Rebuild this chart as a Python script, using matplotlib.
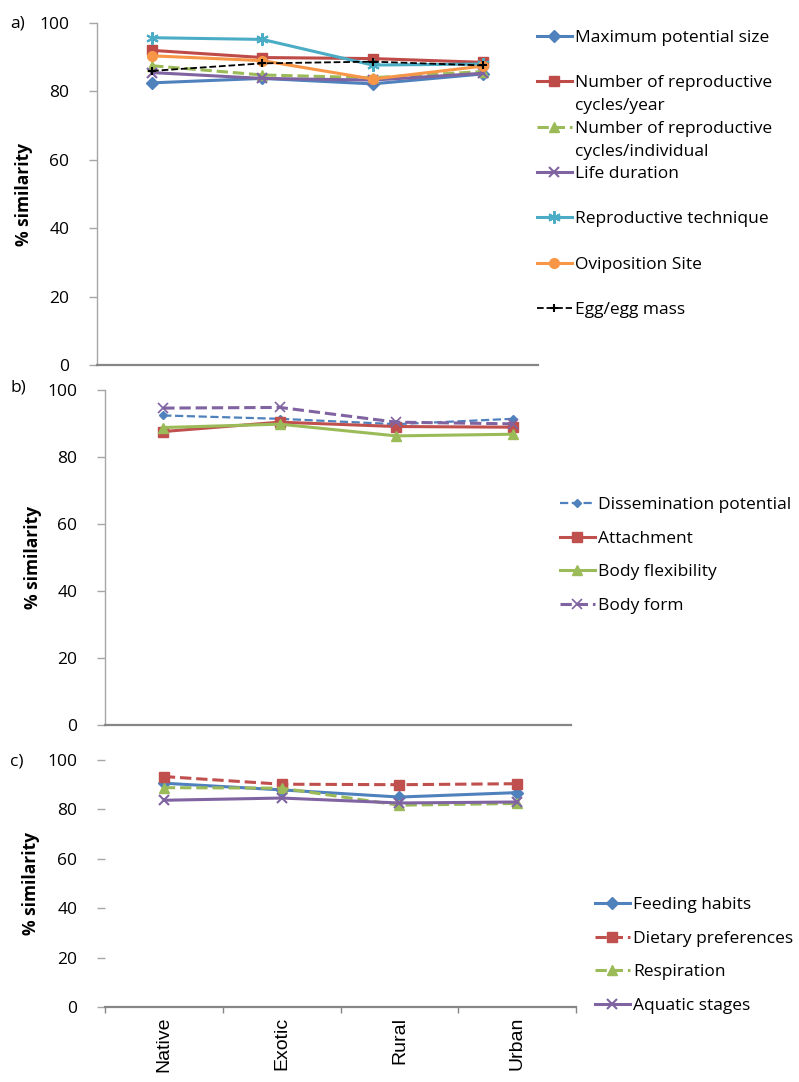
import numpy as np
import matplotlib
matplotlib.use("Agg")
import matplotlib.pyplot as plt

plt.rcParams['font.family'] = ['Open Sans', 'DejaVu Sans']

sites = ["Native", "Exotic", "Rural", "Urban"]

# a) reproduction traits
max_size = [82.5, 83.8, 82.2, 85.1]
cycles_year = [92.0, 89.9, 89.6, 88.5]
cycles_ind = [87.5, 84.8, 84.0, 85.8]
life_duration = [85.5, 83.8, 83.3, 85.3]
repro_tech = [95.7, 95.2, 87.7, 88.0]
oviposition = [90.4, 89.0, 83.6, 87.4]
egg_mass = [86.0, 88.2, 88.7, 87.6]

# b) morphology traits
dissemination = [92.4, 91.4, 89.8, 91.4]
attachment = [87.6, 90.4, 89.1, 88.9]
body_flex = [88.8, 89.8, 86.3, 86.8]
body_form = [94.6, 94.8, 90.4, 89.9]

# c) feeding / respiration traits
feeding = [90.6, 87.9, 85.0, 86.8]
dietary = [93.3, 90.2, 90.0, 90.4]
respiration = [88.8, 88.6, 81.7, 82.4]
aquatic = [83.7, 84.6, 82.6, 83.0]

BLUE, RED, GREEN, PURPLE = '#4F81BD', '#C0504D', '#9BBB59', '#8064A2'
CYAN, ORANGE = '#4BACC6', '#F79646'
ASTER = (6, 2, 0)

W, H = 799, 1082
fig = plt.figure(figsize=(W / 100, H / 100), dpi=100)


def px_rect(x0, y0, x1, y1):
    return [x0 / W, 1 - y1 / H, (x1 - x0) / W, (y1 - y0) / H]


def style_axis(ax, show_left=True, xticks=False):
    x = np.arange(len(sites))
    ax.set_xlim(-0.5, len(sites) - 0.5)
    ax.set_ylim(0, 100)
    ax.set_yticks([0, 20, 40, 60, 80, 100])
    for s in ['top', 'right']:
        ax.spines[s].set_visible(False)
    ax.spines['left'].set_color('#A6A6A6')
    ax.spines['left'].set_linewidth(1.0)
    ax.spines['left'].set_visible(show_left)
    ax.spines['bottom'].set_color('#868686')
    ax.spines['bottom'].set_linewidth(1.6)
    ax.tick_params(axis='y', length=6, width=1, color='#A6A6A6', pad=14,
                   labelsize=12.5)
    if xticks:
        ax.set_xticks(np.arange(-0.5, len(sites)), minor=False)
        ax.set_xticklabels([])
        ax.set_xticks(x, minor=True)
        ax.set_xticklabels(sites, minor=True, rotation=90,
                           family='Liberation Sans', fontsize=14)
        ax.tick_params(axis='x', which='major', length=4, width=1,
                       color='#868686')
        ax.tick_params(axis='x', which='minor', length=0, pad=7)
    else:
        ax.set_xticks([])
    ax.set_ylabel('% similarity', fontsize=12.5, fontweight='bold')
    return x


lw = 2.2
ms = 7
leg_kw = dict(bbox_transform=fig.transFigure, frameon=False, fontsize=12.5,
              borderpad=0, borderaxespad=0, handlelength=2.0, handletextpad=0.2,
              loc='upper left')

# panel a (long labels wrap onto a second line, Excel style)
axa = fig.add_axes(px_rect(97, 23, 538, 365))
x = style_axis(axa)
axa.plot(x, max_size, color=BLUE, lw=lw, marker='D', ms=6, label='Maximum potential size')
axa.plot(x, cycles_year, color='#BE4B48', lw=lw, marker='s', ms=ms,
         label='Number of reproductive')
axa.plot(x, cycles_ind, color=GREEN, lw=lw, ls='--', marker='^', ms=ms,
         label='Number of reproductive')
axa.plot(x, life_duration, color=PURPLE, lw=lw, marker='x', ms=ms, mew=1.5,
         label='Life duration')
axa.plot(x, repro_tech, color=CYAN, lw=lw, marker=ASTER, ms=9, mew=1.5,
         label='Reproductive technique')
axa.plot(x, oviposition, color=ORANGE, lw=lw, marker='o', ms=ms,
         label='Oviposition Site')
axa.plot(x, egg_mass, color='black', lw=1.3, ls='--', marker='+', ms=6, mew=1.5,
         label='Egg/egg mass')
axa.yaxis.set_label_coords(-0.145, 0.5)
lega = axa.legend(bbox_to_anchor=(537 / W, 1 - 30 / H), labelspacing=1.68, **leg_kw)
wrapped = {1: 'cycles/year', 2: 'cycles/individual'}

# panel b
axb = fig.add_axes(px_rect(105, 390, 571, 725))
x = style_axis(axb)
axb.plot(x, dissemination, color=BLUE, lw=1.6, ls='--', marker='D', ms=4,
         label='Dissemination potential')
axb.plot(x, attachment, color=RED, lw=lw, marker='s', ms=ms, label='Attachment')
axb.plot(x, body_flex, color=GREEN, lw=lw, marker='^', ms=ms, label='Body flexibility')
axb.plot(x, body_form, color=PURPLE, lw=lw, ls='--', marker='x', ms=ms, mew=1.2,
         label='Body form')
axb.yaxis.set_label_coords(-0.135, 0.5)
axb.legend(bbox_to_anchor=(560 / W, 1 - 497 / H), labelspacing=1.0, **leg_kw)

# panel c
axc = fig.add_axes(px_rect(105, 760, 576, 1007))
x = style_axis(axc, show_left=False, xticks=True)
axc.plot(x, feeding, color=BLUE, lw=lw, marker='D', ms=6, label='Feeding habits')
axc.plot(x, dietary, color=RED, lw=lw, ls='--', marker='s', ms=ms,
         label='Dietary preferences')
axc.plot(x, respiration, color=GREEN, lw=lw, ls='--', marker='^', ms=ms,
         label='Respiration')
axc.plot(x, aquatic, color=PURPLE, lw=lw, marker='x', ms=ms, mew=1.5,
         label='Aquatic stages')
axc.yaxis.set_label_coords(-0.138, 0.5)
axc.legend(bbox_to_anchor=(595 / W, 1 - 897 / H), labelspacing=1.0, **leg_kw)

for lab, yy in [('a)', 23), ('b)', 387), ('c)', 762)]:
    fig.text(10 / W, 1 - yy / H, lab, fontsize=12.5, va='center', ha='left')

# second line of the wrapped legend labels, placed under the first line
fig.canvas.draw()
texts = lega.get_texts()
for i, extra in wrapped.items():
    bb = texts[i].get_window_extent()
    fig.text(bb.x0 / W, (bb.y0 - 23) / H, extra, fontsize=12.5,
             va='bottom', ha='left')

fig.savefig('out.png', dpi=100)
